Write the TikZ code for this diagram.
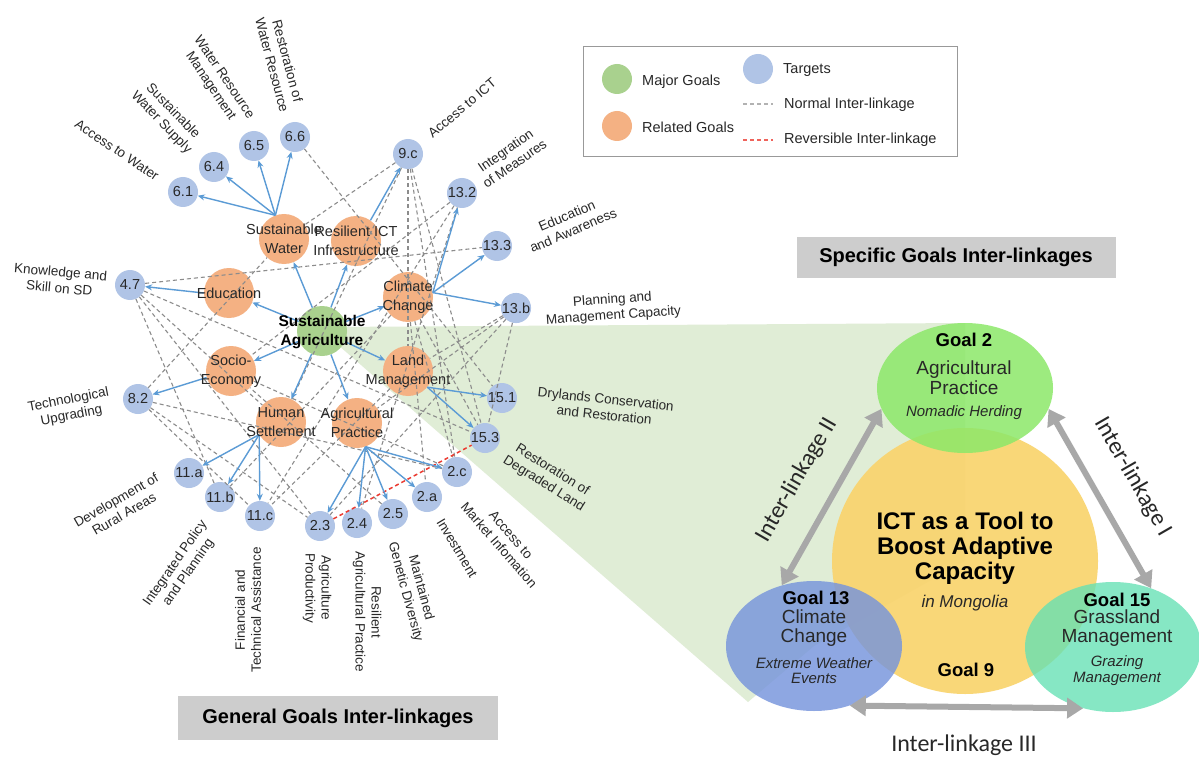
\documentclass[tikz,border=0pt]{standalone}
\usepackage{fontspec}
\setmainfont{Liberation Sans}
\newfontfamily\carl{Carlito}
\usetikzlibrary{arrows.meta,shapes.geometric}
\definecolor{gor}{RGB}{244,177,131}
\definecolor{ggr}{RGB}{169,209,142}
\definecolor{tbl}{RGB}{176,196,230}
\definecolor{dgray}{RGB}{140,140,140}
\definecolor{abl}{RGB}{91,155,213}
\definecolor{wedgec}{RGB}{224,237,214}
\definecolor{ylw}{RGB}{249,212,110}
\definecolor{limec}{RGB}{140,232,105}
\definecolor{gblc}{RGB}{118,148,220}
\definecolor{tealc}{RGB}{100,225,180}
\definecolor{boxg}{RGB}{205,205,205}
\definecolor{agray}{RGB}{168,168,168}
\definecolor{redd}{RGB}{235,60,50}
\definecolor{txt}{RGB}{40,40,40}
\begin{document}
\begin{tikzpicture}[x=1pt,y=-1pt,
  tgt/.style={circle,fill=tbl,minimum size=30pt,inner sep=0pt,text=txt,font=\fontsize{14.5}{16}\selectfont},
  goal/.style={circle,fill=gor,minimum size=50pt,inner sep=0pt},
  gtxt/.style={align=center,text=txt,font=\fontsize{14.5}{19}\selectfont,inner sep=0pt},
  lbl/.style={align=center,text=txt,font=\fontsize{13.5}{16}\selectfont,inner sep=0pt},
  dl/.style={draw=dgray,dash pattern=on 4pt off 3pt,line width=1.1pt},
  rl/.style={draw=redd,dash pattern=on 4pt off 3pt,line width=1.5pt},
  ba/.style={draw=abl,line width=1.4pt,-{Stealth[length=7pt,width=6pt]}},
  garr/.style={draw=agray,line width=6pt,{Triangle[length=16pt,width=20pt]}-{Triangle[length=16pt,width=20pt]}},
  ell/.style={ellipse,minimum width=176pt,minimum height=130pt,inner sep=0pt},
  rtxt/.style={align=center,inner sep=0pt,text=txt,font=\fontsize{19}{19.5}\selectfont},
  rgoal/.style={inner sep=0pt,text=black,font=\fontsize{18.5}{20}\selectfont\bfseries},
  rit/.style={align=center,inner sep=0pt,text=txt,font=\fontsize{15}{15.5}\selectfont\itshape},
  ilk/.style={inner sep=0pt,text=txt,font=\carl\fontsize{24}{26}\selectfont},
  titlebox/.style={fill=boxg,inner sep=0pt,font=\fontsize{20}{22}\selectfont\bfseries},
  legt/.style={anchor=west,inner sep=0pt,text=txt,font=\fontsize{14.5}{16}\selectfont}
]
\useasboundingbox (0,0) rectangle (1199,762);
\fill[white] (0,0) rectangle (1199,762);

% green wedge
\fill[wedgec] (330,327) -- (965,323) -- (965,561) -- (814,646) -- (748,702) -- (330,338) -- cycle;

% right diagram
\node[circle,fill=ylw,fill opacity=0.93,minimum size=266pt,inner sep=0pt] (g9) at (965,561) {};
\node[ell,fill=limec,fill opacity=0.85] (g2) at (965,388) {};
\node[ell,fill=gblc,fill opacity=0.82] (g13) at (814,646) {};
\node[ell,fill=tealc,fill opacity=0.78] (g15) at (1113,647) {};

\draw[garr] (g2.-14) -- (g15.57);
\draw[garr] (g2.194) -- (g13.118);
\draw[garr] (g13.-59) -- (g15.244);

\node[rgoal] (g2a) at (964,340) {Goal 2};
\node[rtxt] (g2b) at (964,377.5) {Agricultural\\Practice};
\node[rit] (g2c) at (964,413) {Nomadic Herding};

\node[align=center,inner sep=0pt,font=\fontsize{24}{25}\selectfont\bfseries] (g9a) at (965,548) {ICT as a Tool to\\Boost Adaptive\\Capacity};
\node[inner sep=0pt,text=txt,font=\fontsize{17}{18}\selectfont\itshape] (g9b) at (965,603) {in Mongolia};
\node[rgoal] (g9c) at (966,670) {Goal 9};

\node[rgoal] (g13a) at (816,598) {Goal 13};
\node[rtxt] (g13b) at (814,628) {Climate\\Change};
\node[rit] (g13c) at (814,670.5) {Extreme Weather\\Events};

\node[rgoal] (g15a) at (1117,600) {Goal 15};
\node[rtxt] (g15b) at (1117,628) {Grassland\\Management};
\node[rit] (g15c) at (1117,670.5) {Grazing\\Management};

\node[ilk,rotate=-60] (il1) at (1133,477) {Inter-linkage I};
\node[ilk,rotate=60] (il2) at (797,480) {Inter-linkage II};
\node[ilk] (il3) at (964,745) {Inter-linkage III};

\node[titlebox,minimum width=319pt,minimum height=41pt] (spec) at (956,257) {Specific Goals Inter-linkages};
\node[titlebox,minimum width=320pt,minimum height=44pt] (gen) at (338,718) {General Goals Inter-linkages};

% legend
\draw[draw=gray!80,line width=1pt] (583,47) rectangle (957,157);
\node[circle,fill=ggr,minimum size=30pt,inner sep=0pt] (lg1) at (617,79) {};
\node[circle,fill=gor,minimum size=30pt,inner sep=0pt] (lg2) at (617,126) {};
\node[circle,fill=tbl,minimum size=30pt,inner sep=0pt] (lg3) at (758,69) {};
\node[legt] (lt1) at (642,82) {Major Goals};
\node[legt] (lt2) at (642,127) {Related Goals};
\node[legt] (lt3) at (783,70) {Targets};
\node[legt] (lt4) at (784,105) {Normal Inter-linkage};
\node[legt] (lt5) at (784,140) {Reversible Inter-linkage};
\coordinate (n1) at (743,104); \coordinate (n2) at (773,104);
\coordinate (r1) at (743,140); \coordinate (r2) at (773,140);
\draw[draw=gray!60,dash pattern=on 4pt off 3pt,line width=1.2pt] (n1) -- (n2);
\draw[draw=redd!80,dash pattern=on 4pt off 3pt,line width=1.3pt] (r1) -- (r2);

% goals
\node[goal] (sw) at (284,239) {};
\node[goal] (ri) at (356,241) {};
\node[goal] (ed) at (229,293) {};
\node[goal] (cc) at (408,297) {};
\node[goal] (se) at (231,371) {};
\node[goal] (lm) at (408,371) {};
\node[goal] (hs) at (281,422) {};
\node[goal] (ap) at (357,423) {};
\node[goal,fill=ggr] (sa) at (322,331) {};

% targets
\node[tgt] (t61) at (183,192) {6.1};
\node[tgt] (t64) at (214,167) {6.4};
\node[tgt] (t65) at (254,146) {6.5};
\node[tgt] (t66) at (295,137) {6.6};
\node[tgt] (t9c) at (408,154) {9.c};
\node[tgt] (t132) at (462,193) {13.2};
\node[tgt] (t133) at (497,246) {13.3};
\node[tgt] (t13b) at (516,308) {13.b};
\node[tgt] (t47) at (130,285) {4.7};
\node[tgt] (t82) at (138,399) {8.2};
\node[tgt] (t11a) at (189,473) {11.a};
\node[tgt] (t11b) at (220,497) {11.b};
\node[tgt] (t11c) at (260,516) {11.c};
\node[tgt] (t23) at (320,526) {2.3};
\node[tgt] (t24) at (357,523) {2.4};
\node[tgt] (t25) at (393,514) {2.5};
\node[tgt] (t2a) at (427,497) {2.a};
\node[tgt] (t2c) at (457,472) {2.c};
\node[tgt] (t151) at (502,398) {15.1};
\node[tgt] (t153) at (485,438) {15.3};

% dashed inter-linkages
\draw[dl] (t66) -- (t151);
\draw[dl] (t9c) -- (sw);
\draw[dl] (t82) -- (sw);
\draw[dl] (t47) -- (t133);
\draw[dl] (t47) -- (hs);
\draw[dl] (t47) -- (t153);
\draw[dl] (t47) -- (t11b);
\draw[dl] (t47) -- (t23);
\draw[dl] (t82) -- (t11c);
\draw[dl] (t82) -- (t23);
\draw[dl] (t82) -- (t2c);
\draw[dl] (t9c) -- (t2c);
\draw[dl] (t9c) -- (lm);
\draw[dl] (t9c) -- (t153);
\draw[dl] (t9c) -- (hs);
\draw[dl] (t132) -- (se);
\draw[dl] (t132) -- (t24);
\draw[dl] (t132) -- (t11c);
\draw[dl] (cc) -- (t11b);
\draw[dl] (cc) -- (t2a);
\draw[dl] (cc) -- (t2c);
\draw[dl] (cc) -- (t153);
\draw[dl] (t13b) -- (lm);
\draw[dl] (t13b) -- (t153);
\draw[dl] (t13b) -- (ap);
\draw[dl] (t13b) -- (t23);
\draw[dl] (lm) -- (t11c);
\draw[dl] (t25) -- (se);
\draw[dl] (t2c) -- (se);
\draw[rl] (t23) -- (t153);

% blue arrows
\draw[ba] (sa) -- (ed);
\draw[ba] (sa) -- (sw);
\draw[ba] (sa) -- (ri);
\draw[ba] (sa) -- (cc);
\draw[ba] (sa) -- (lm);
\draw[ba] (sa) -- (se);
\draw[ba] (sa) -- (hs);
\draw[ba] (sa) -- (ap);
\draw[ba] (sw.110) -- (t61);
\draw[ba] (sw.110) -- (t64);
\draw[ba] (sw.110) -- (t65);
\draw[ba] (sw.110) -- (t66);
\draw[ba] (ri.55) -- (t9c);
\draw[ba] (cc.10) -- (t132);
\draw[ba] (cc.10) -- (t133);
\draw[ba] (cc.10) -- (t13b);
\draw[ba] (lm.-40) -- (t151);
\draw[ba] (lm.-40) -- (t153);
\draw[ba] (ap.-70) -- (t23);
\draw[ba] (ap.-70) -- (t24);
\draw[ba] (ap.-70) -- (t25);
\draw[ba] (ap.-70) -- (t2a);
\draw[ba] (ap.-70) -- (t2c);
\draw[ba] (hs.210) -- (t11a);
\draw[ba] (hs.210) -- (t11b);
\draw[ba] (hs.210) -- (t11c);
\draw[ba] (se.195) -- (t82);
\draw[ba] (ed.180) -- (t47);

% goal texts
\node[gtxt] (swt) at (284,239) {Sustainable\\Water};
\node[gtxt] (rit) at (356,241) {Resilient ICT\\Infrastructure};
\node[gtxt] (edt) at (229,293) {Education};
\node[gtxt] (cct) at (408,297) {Climate\\Change};
\node[gtxt,text=black,font=\fontsize{15.5}{19}\selectfont\bfseries] (sat) at (322,332) {Sustainable\\Agriculture};
\node[gtxt] (set) at (231,371) {Socio-\\Economy};
\node[gtxt] (lmt) at (408,371) {Land\\Management};
\node[gtxt] (hst) at (281,422) {Human\\Settlement};
\node[gtxt] (apt) at (357,423) {Agricultural\\Practice};

% target labels
\node[lbl,rotate=-34] (l61) at (117,150) {Access to Water};
\node[lbl,rotate=-46] (l64) at (167,117) {Sustainable\\Water Supply};
\node[lbl,rotate=-56] (l65) at (217,82) {Water Resource\\Management};
\node[lbl,rotate=-75] (l66) at (280,63) {Restoration of\\Water Resource};
\node[lbl,rotate=40] (l9c) at (462,108) {Access to ICT};
\node[lbl,rotate=35] (l132) at (510,157) {Integration\\of Measures};
\node[lbl,rotate=23] (l133) at (570,223) {Education\\and Awareness};
\node[lbl,rotate=4] (l13b) at (613,308) {Planning and\\Management Capacity};
\node[lbl,rotate=-5] (l47) at (60,280) {Knowledge and\\Skill on SD};
\node[lbl,rotate=11] (l82) at (70,408) {Technological\\Upgrading};
\node[lbl,rotate=30] (l11a) at (120,507) {Development of\\Rural Areas};
\node[lbl,rotate=55] (l11b) at (182,568) {Integrated Policy\\and Planning};
\node[lbl,rotate=90] (l11c) at (248,610) {Financial and\\Technical Assistance};
\node[lbl,rotate=-90] (l23) at (317,588) {Agriculture\\Productivity};
\node[lbl,rotate=-90] (l24) at (367,612) {Resilient\\Agricultural Practice};
\node[lbl,rotate=-75] (l25) at (413,590) {Maintained\\Genetic Diversity};
\node[lbl,rotate=-59] (l2a) at (457,548) {Investment};
\node[lbl,rotate=-49] (l2c) at (505,540) {Access to\\Market Infomation};
\node[lbl,rotate=-32] (l153) at (548,477) {Restoration of\\Degraded Land};
\node[lbl,rotate=-6] (l151) at (605,407) {Drylands Conservation\\and Restoration};
\end{tikzpicture}
\end{document}
